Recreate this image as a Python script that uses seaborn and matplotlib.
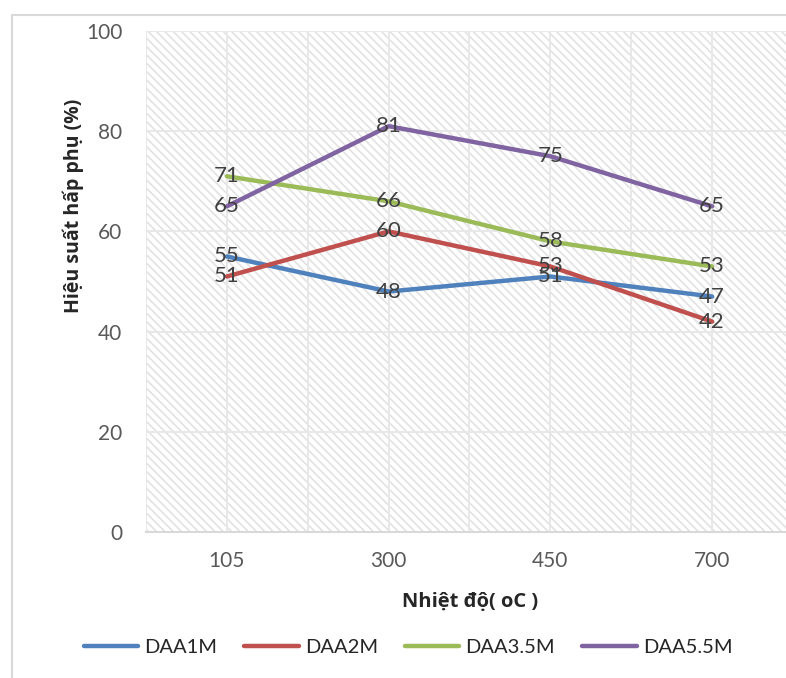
import matplotlib
matplotlib.use("Agg")
import matplotlib.pyplot as plt
import seaborn as sns
import pandas as pd
from matplotlib.patches import Rectangle

categories = ["105", "300", "450", "700"]
daa1m = [55, 48, 51, 47]
daa2m = [51, 60, 53, 42]
daa35m = [71, 66, 58, 53]
daa55m = [65, 81, 75, 65]
series_names = ["DAA1M", "DAA2M", "DAA3.5M", "DAA5.5M"]
series_values = [daa1m, daa2m, daa35m, daa55m]
colors = ["#4f81bd", "#c0504d", "#9bbb59", "#8064a2"]
y_ticks = [0, 20, 40, 60, 80, 100]

sns.set_theme(style="white")
plt.rcParams["font.family"] = ["Lato", "DejaVu Sans"]
plt.rcParams["hatch.linewidth"] = 1.2

rows = []
for name, vals in zip(series_names, series_values):
    for i, v in enumerate(vals):
        rows.append({"pos": i, "cat": categories[i], "value": v, "series": name})
df = pd.DataFrame(rows)

fig = plt.figure(figsize=(7.86, 6.78), dpi=100)
fig.patch.set_facecolor("white")
ax = fig.add_axes([146 / 786, 1 - 532 / 678, 647 / 786, (532 - 31) / 678])

# outer chart border
fig.patches.append(Rectangle((12 / 786, -0.01), 1.0, 1 - 15 / 678 + 0.01,
                             transform=fig.transFigure, fill=False,
                             edgecolor="#d9d9d9", linewidth=1.5, zorder=0))

ax.set_facecolor("white")
ax.add_patch(Rectangle((0, 0), 1, 1, transform=ax.transAxes, facecolor="white",
                       edgecolor="#e2e2e2", linewidth=0, hatch="\\\\\\\\", zorder=0))

sns.lineplot(data=df, x="pos", y="value", hue="series", palette=colors,
             hue_order=series_names, linewidth=3.2, ax=ax, legend=True, zorder=3)

for name, vals in zip(series_names, series_values):
    for i, v in enumerate(vals):
        ax.text(i, v, str(v), ha="center", va="center", fontsize=16,
                color="#404040", zorder=5)

ax.set_xlim(-0.5, 3.5)
ax.set_ylim(0, 100)
ax.set_yticks(y_ticks)
ax.set_xticks(range(len(categories)))
ax.set_xticklabels(categories)
for x in [-0.5, 0, 0.5, 1, 1.5, 2, 2.5, 3, 3.5]:
    ax.axvline(x, color="#e8e8e8", linewidth=1.4, zorder=1)
for y in y_ticks[1:]:
    ax.axhline(y, color="#e8e8e8", linewidth=1.4, zorder=1)
ax.tick_params(axis="y", length=0, pad=17, labelsize=15, labelcolor="#595959")
ax.tick_params(axis="x", length=0, pad=14, labelsize=15, labelcolor="#595959")
ax.set_xlabel("")
ax.set_ylabel("")
for s in ["top", "right", "left"]:
    ax.spines[s].set_visible(False)
ax.spines["bottom"].set_color("#d9d9d9")
ax.spines["bottom"].set_linewidth(1.5)
ax.spines["bottom"].set_zorder(2)

handles, labels = ax.get_legend_handles_labels()
ax.get_legend().remove()
fig.legend(handles, labels, loc="center", bbox_to_anchor=(408 / 786, 1 - 647 / 678),
           ncol=4, frameon=False, fontsize=14.5, handlelength=2.7,
           handletextpad=0.3, columnspacing=1.35)

fig.text(470 / 786, 1 - 602 / 678, "Nhiệt độ( oC )", ha="center", va="center",
         fontsize=14.5, fontweight="bold", family=["Open Sans", "DejaVu Sans"])
fig.text(73 / 786, 1 - 206 / 678, "Hiệu suất hấp phụ (%)", ha="center", va="center",
         rotation=90, fontsize=14, fontweight="bold", family=["Open Sans", "DejaVu Sans"])

fig.savefig("out.png", dpi=100, facecolor="white")
